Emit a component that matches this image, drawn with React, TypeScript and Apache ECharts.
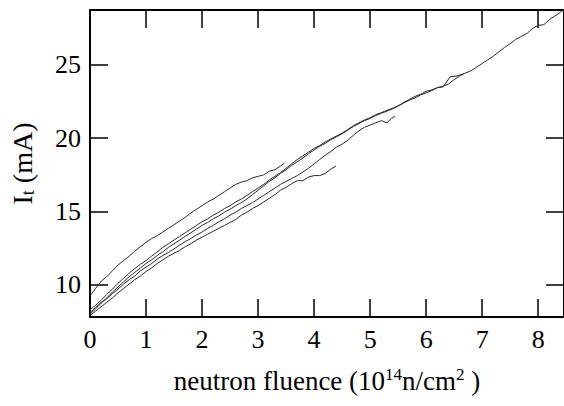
import React, { useEffect, useRef } from "react";
import * as echarts from "echarts";

const xTicks = [0, 1, 2, 3, 4, 5, 6, 7, 8];
const yTicks = [10, 15, 20, 25];

const curveA: number[][] = [[0,9.25],[0.1,9.75],[0.2,10.25],[0.3,10.55],[0.4,10.95],[0.5,11.35],[0.6,11.65],[0.7,11.95],[0.8,12.3],[0.9,12.6],[1.0,12.9],[1.1,13.15],[1.2,13.35],[1.3,13.6],[1.4,13.85],[1.5,14.1],[1.6,14.35],[1.7,14.6],[1.8,14.9],[1.9,15.15],[2.0,15.4],[2.1,15.65],[2.2,15.85],[2.3,16.1],[2.4,16.35],[2.5,16.6],[2.6,16.85],[2.7,17.0],[2.8,17.1],[2.9,17.3],[3.0,17.4],[3.1,17.5],[3.2,17.75],[3.3,17.85],[3.4,18.1],[3.47,18.3]];

const curveB: number[][] = [[0,7.9],[0.1,8.2],[0.2,8.5],[0.3,8.8],[0.4,9.1],[0.5,9.45],[0.6,9.75],[0.7,10.05],[0.8,10.35],[0.9,10.6],[1.0,10.9],[1.1,11.15],[1.2,11.45],[1.3,11.7],[1.4,11.95],[1.5,12.15],[1.6,12.35],[1.7,12.6],[1.8,12.8],[1.9,13.05],[2.0,13.25],[2.1,13.45],[2.2,13.65],[2.3,13.85],[2.4,14.05],[2.5,14.25],[2.6,14.45],[2.7,14.75],[2.8,14.95],[2.9,15.2],[3.0,15.4],[3.1,15.65],[3.2,15.9],[3.3,16.15],[3.4,16.45],[3.5,16.65],[3.6,16.9],[3.7,17.1],[3.8,17.1],[3.9,17.35],[4.0,17.45],[4.1,17.45],[4.2,17.6],[4.3,17.9],[4.39,18.1]];

const curveC: number[][] = [[0,8.1],[0.1,8.45],[0.2,8.8],[0.3,9.05],[0.4,9.4],[0.5,9.7],[0.6,10.05],[0.7,10.35],[0.8,10.6],[0.9,10.95],[1.0,11.2],[1.1,11.45],[1.2,11.75],[1.3,12.0],[1.4,12.2],[1.5,12.45],[1.6,12.7],[1.7,12.95],[1.8,13.15],[1.9,13.4],[2.0,13.6],[2.1,13.85],[2.2,14.05],[2.3,14.3],[2.4,14.5],[2.5,14.75],[2.6,14.95],[2.7,15.2],[2.8,15.4],[2.9,15.6],[3.0,15.85],[3.1,16.1],[3.2,16.35],[3.3,16.6],[3.4,16.85],[3.5,17.05],[3.6,17.25],[3.7,17.45],[3.8,17.7],[3.9,17.95],[4.0,18.25],[4.1,18.55],[4.2,18.85],[4.3,19.1],[4.4,19.4],[4.5,19.6],[4.6,19.85],[4.7,20.2],[4.8,20.5],[4.9,20.75],[5.0,20.9],[5.1,21.05],[5.2,21.2],[5.3,21.05],[5.38,21.35],[5.45,21.5]];

const curveD: number[][] = [[0,8.0],[0.1,8.35],[0.2,8.75],[0.3,9.1],[0.4,9.5],[0.5,9.85],[0.6,10.2],[0.7,10.55],[0.8,10.85],[0.9,11.15],[1.0,11.45],[1.1,11.7],[1.2,12.0],[1.3,12.25],[1.4,12.55],[1.5,12.8],[1.6,13.05],[1.7,13.3],[1.8,13.55],[1.9,13.8],[2.0,14.05],[2.1,14.25],[2.2,14.5],[2.3,14.7],[2.4,14.95],[2.5,15.15],[2.6,15.4],[2.7,15.6],[2.8,15.85],[2.9,16.15],[3.0,16.45],[3.1,16.75],[3.2,17.05],[3.3,17.3],[3.4,17.6],[3.5,17.85],[3.6,18.15],[3.7,18.4],[3.8,18.65],[3.9,18.95],[4.0,19.2],[4.1,19.45],[4.2,19.65],[4.3,19.9],[4.4,20.1],[4.5,20.3],[4.6,20.55],[4.7,20.8],[4.8,21.0],[4.9,21.2],[5.0,21.35],[5.1,21.55],[5.2,21.7],[5.3,21.85],[5.4,22.0],[5.5,22.2],[5.6,22.4],[5.7,22.6],[5.8,22.75],[5.9,22.95],[6.0,23.1],[6.1,23.25],[6.2,23.45],[6.3,23.5],[6.43,24.2],[6.55,24.25],[6.67,24.4]];

const curveE: number[][] = [[0,8.3],[0.1,8.6],[0.2,8.95],[0.3,9.35],[0.4,9.7],[0.5,10.1],[0.6,10.45],[0.7,10.8],[0.8,11.1],[0.9,11.4],[1.0,11.65],[1.1,11.95],[1.2,12.25],[1.3,12.55],[1.4,12.8],[1.5,13.05],[1.6,13.3],[1.7,13.55],[1.8,13.8],[1.9,14.05],[2.0,14.3],[2.1,14.5],[2.2,14.75],[2.3,14.95],[2.4,15.2],[2.5,15.4],[2.6,15.65],[2.7,15.85],[2.8,16.1],[2.9,16.35],[3.0,16.6],[3.1,16.85],[3.2,17.15],[3.3,17.4],[3.4,17.65],[3.5,17.95],[3.6,18.25],[3.7,18.55],[3.8,18.8],[3.9,19.05],[4.0,19.3],[4.1,19.5],[4.2,19.75],[4.3,19.95],[4.4,20.15],[4.5,20.35],[4.6,20.6],[4.7,20.85],[4.8,21.05],[4.9,21.25],[5.0,21.4],[5.1,21.6],[5.2,21.75],[5.3,21.9],[5.4,22.05],[5.5,22.2],[5.6,22.45],[5.7,22.65],[5.8,22.85],[5.9,23.0],[6.0,23.2],[6.1,23.3],[6.2,23.45],[6.3,23.55],[6.4,23.7],[6.5,24.0],[6.6,24.25],[6.7,24.45],[6.8,24.6],[6.9,24.85],[7.0,25.1],[7.1,25.35],[7.2,25.6],[7.3,25.9],[7.4,26.2],[7.5,26.45],[7.6,26.75],[7.7,26.95],[7.8,27.15],[7.9,27.5],[8.0,27.7],[8.1,27.75],[8.2,28.1],[8.3,28.35],[8.4,28.6],[8.46,28.85]];

const curves = [curveA, curveB, curveC, curveD, curveE];

const FONT = "Liberation Serif";

export default function App() {
  const ref = useRef<HTMLDivElement>(null);
  useEffect(() => {
    document.body.style.margin = "0";
    const chart = echarts.init(ref.current!, null, { renderer: "svg" });
    const axisLine = { show: true, onZero: false, lineStyle: { color: "#000", width: 2 } };
    const axisTick = { show: true, inside: true, length: 18, lineStyle: { color: "#000", width: 1.5 } };
    const xFmt = (v: number) => (xTicks.includes(v) ? String(v) : "");
    const yFmt = (v: number) => (yTicks.includes(v) ? String(v) : "");
    chart.setOption({
      animation: false,
      grid: { left: 88, top: 10, right: 0, bottom: 89, containLabel: false },
      xAxis: [
        {
          type: "value", position: "bottom", min: 0, max: 8.46, interval: 1,
          axisLine, axisTick, splitLine: { show: false },
          axisLabel: { fontFamily: FONT, fontSize: 26, color: "#000", margin: 9, formatter: xFmt, showMaxLabel: false },
          name: "{a|neutron fluence (10}{sup|14}{a|n/cm}{sup|2}{a| )}",
          nameLocation: "middle", nameGap: 49,
          nameTextStyle: {
            rich: {
              a: { fontFamily: FONT, fontSize: 27, color: "#000", lineHeight: 30, verticalAlign: "middle" },
              sup: { fontFamily: FONT, fontSize: 17, color: "#000", lineHeight: 17, verticalAlign: "top" },
            },
          },
        },
        {
          type: "value", position: "top", min: 0, max: 8.46, interval: 1,
          axisLine, axisTick, splitLine: { show: false }, axisLabel: { show: false },
        },
      ],
      yAxis: [
        {
          type: "value", position: "left", min: 7.8, max: 28.75, splitNumber: 5,
          axisLine, axisTick, splitLine: { show: false },
          axisLabel: { fontFamily: FONT, fontSize: 26, color: "#000", margin: 9, formatter: yFmt, showMinLabel: false, showMaxLabel: false },
          name: "{a|I}{sub|t}{a| (mA)}",
          nameLocation: "middle", nameGap: 53, nameRotate: 90,
          nameTextStyle: {
            rich: {
              a: { fontFamily: FONT, fontSize: 28, color: "#000", lineHeight: 30, verticalAlign: "middle" },
              sub: { fontFamily: FONT, fontSize: 18, color: "#000", lineHeight: 18, verticalAlign: "bottom" },
            },
          },
        },
        {
          type: "value", position: "right", min: 7.8, max: 28.75, splitNumber: 5,
          axisLine, axisTick, splitLine: { show: false }, axisLabel: { show: false },
        },
      ],
      series: curves.map((c) => ({
        type: "line",
        data: c,
        xAxisIndex: 0,
        yAxisIndex: 0,
        showSymbol: false,
        silent: true,
        lineStyle: { color: "#2a2a2a", width: 1 },
      })),
    });
    return () => chart.dispose();
  }, []);
  return <div ref={ref} style={{ width: 564, height: 406 }} />;
}
